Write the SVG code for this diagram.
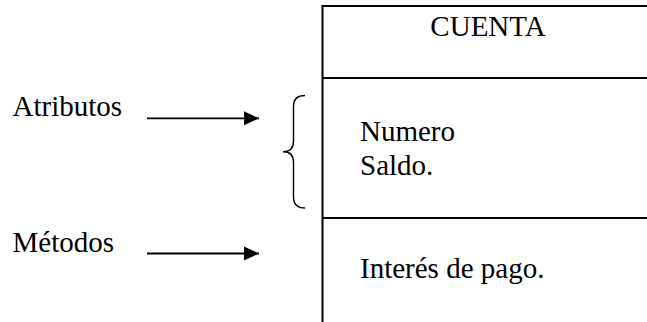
<svg xmlns="http://www.w3.org/2000/svg" width="647" height="322" viewBox="0 0 647 322">
<style>
.t{font-family:'Liberation Serif','Times New Roman','DejaVu Serif',serif;font-size:29px;fill:#000}
.box{stroke:#000;stroke-width:2;fill:none}
.arr{stroke:#000;stroke-width:1.8;fill:none}
.brace{stroke:#000;stroke-width:1.4;fill:none}
</style>
<defs>
<marker id="ah" markerWidth="15" markerHeight="15" refX="15" refY="7.5" orient="auto" markerUnits="userSpaceOnUse">
<path d="M0,0.5 L15,7.5 L0,14.5 Z" fill="#000"/>
</marker>
</defs>
<rect width="647" height="322" fill="#fff"/>
<g id="cuenta" font-family="Liberation Serif, Times New Roman, serif">
<path class="box" d="M648,6 H322.5 V323 M322.5,78 H648 M322.5,218 H648"/>
<text class="t" x="488" y="36" text-anchor="middle">CUENTA</text>
<text class="t" x="360" y="140.5">Numero</text>
<text class="t" x="360" y="175">Saldo.</text>
<text class="t" x="360" y="278">Interés de pago.</text>
</g>
<g id="brace">
<path class="brace" d="M305,95.5 Q293.5,95.5 293.5,106 L293.5,141 Q293.5,151.7 283,151.7 Q293.5,151.7 293.5,162 L293.5,197 Q293.5,208 305,208"/>
</g>
<g id="atributos" font-family="Liberation Serif, Times New Roman, serif">
<text class="t" x="12.5" y="116">Atributos</text>
</g>
<g id="metodos" font-family="Liberation Serif, Times New Roman, serif">
<text class="t" x="12.5" y="251.5">Métodos</text>
</g>
<g id="connectors">
<line class="arr" x1="147" y1="118.3" x2="259" y2="118.3" marker-end="url(#ah)"/>
<line class="arr" x1="147" y1="253.5" x2="259" y2="253.5" marker-end="url(#ah)"/>
</g>
</svg>
